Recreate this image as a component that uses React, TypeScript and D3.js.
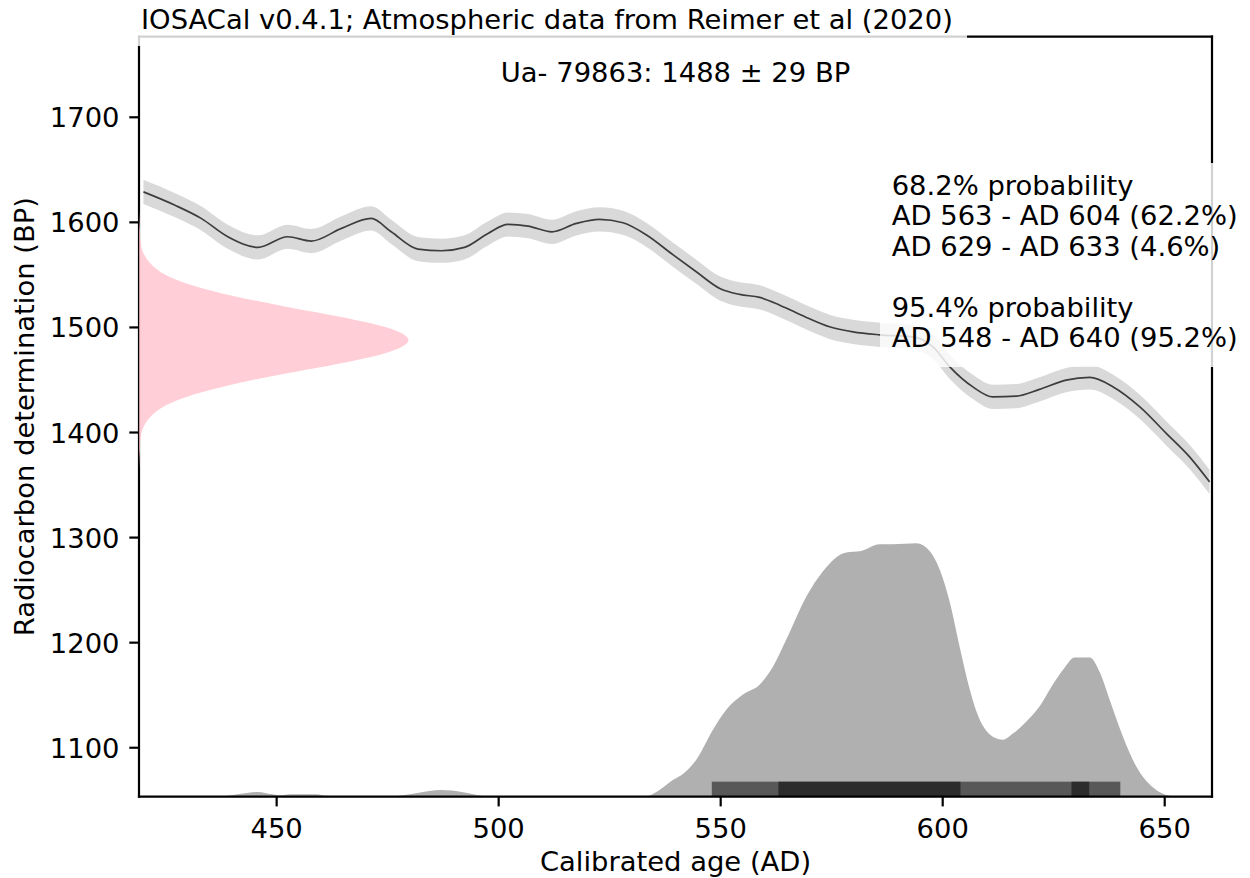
import React from "react";
import * as d3 from "d3";

const W = 1250;
const H = 878;
const X_DOMAIN = [419.0, 660.65];
const Y_DOMAIN = [1053.4, 1776.7];
const X_TICKS = [450, 500, 550, 600, 650];
const Y_TICKS = [1100, 1200, 1300, 1400, 1500, 1600, 1700];

// Calibration curve (IntCal20)
const CURVE_YEARS = [420, 427, 433, 439, 445.8, 452.5, 457.8, 464.6, 471.3, 475.8, 481.8, 487.1, 492.3, 497.6, 502.1, 506.6, 512, 517.5, 522.7, 528, 533.3, 539.3, 544.5, 549.8, 554.3, 558.8, 563.3, 569.3, 574.5, 579.8, 585.8, 593.3, 597.8, 601.6, 606.8, 611.3, 616.6, 621.8, 627.8, 633.1, 638.4, 644.4, 650.4, 655.6, 660.1];
const CURVE_BP = [1629, 1616.5, 1603.8, 1586.3, 1576.2, 1586.3, 1582.2, 1594.3, 1603.8, 1591, 1574.6, 1573, 1576.2, 1589.5, 1598, 1596.5, 1591, 1599, 1602.9, 1599.6, 1588, 1569, 1553, 1537.1, 1531.4, 1528.6, 1521.2, 1509.5, 1500.6, 1495.8, 1493, 1491, 1481.5, 1462.5, 1443.4, 1433.9, 1434.6, 1441, 1449.8, 1452.4, 1443.4, 1424.4, 1399, 1376.8, 1353];
const CURVE_ERR = 11.5;

// Calibrated probability distribution (relative)
const DIST_YEARS = [419, 435, 439, 442, 445.8, 449, 451, 453, 459, 461, 465, 475, 478, 482, 487, 492, 496, 500, 530, 533.3, 535.6, 539.3, 541.5, 544.5, 548.3, 551.3, 555, 558.8, 561.8, 564.8, 569.3, 573, 578.3, 581.3, 585.8, 588.8, 594.1, 597.1, 599.3, 601.6, 603.8, 606.1, 607.6, 611.3, 613.6, 615.8, 618.8, 621.8, 624.8, 627.5, 629.7, 633.1, 635.4, 637.6, 640.6, 643.6, 647.4, 651.1, 655, 660.65];
const DIST_DENSITY = [0, 0, 0.004, 0.012, 0.019, 0.01, 0.006, 0.01, 0.01, 0.004, 0, 0, 0.005, 0.016, 0.026, 0.018, 0.004, 0, 0, 0.002, 0.02, 0.067, 0.09, 0.146, 0.265, 0.344, 0.403, 0.443, 0.514, 0.621, 0.79, 0.889, 0.964, 0.968, 0.996, 0.996, 1.0, 0.968, 0.897, 0.767, 0.593, 0.423, 0.336, 0.237, 0.225, 0.249, 0.296, 0.356, 0.443, 0.51, 0.549, 0.549, 0.49, 0.383, 0.237, 0.119, 0.036, 0.004, 0, 0];
const DIST_MAX_BP = 241.2;

// Radiocarbon determination 1488 ± 29 BP (relative density along the y axis)
const DATE_BP = [1633, 1610, 1590, 1580, 1570, 1560, 1550, 1540, 1530, 1520, 1510, 1500, 1488, 1476, 1466, 1456, 1446, 1436, 1426, 1416, 1406, 1396, 1386, 1366, 1343];
const DATE_DENSITY = [0, 0.0003, 0.004, 0.0065, 0.018, 0.046, 0.1, 0.2, 0.35, 0.54, 0.75, 0.92, 1, 0.92, 0.75, 0.54, 0.35, 0.2, 0.1, 0.046, 0.018, 0.0065, 0.004, 0.0003, 0];
const DATE_PEAK_YEARS = 60.7;

const RANGES_954 = [[548, 640]];
const RANGES_682 = [[563, 604], [629, 633]];
const BAR_BP = 14.3;

const TITLE = "IOSACal v0.4.1; Atmospheric data from Reimer et al (2020)";
const DATE_LABEL = "Ua- 79863: 1488 \u00b1 29 BP";
const ANNOT_LINES = ["68.2% probability", "AD 563 - AD 604 (62.2%)", "AD 629 - AD 633 (4.6%)", "", "95.4% probability", "AD 548 - AD 640 (95.2%)"];
const X_LABEL = "Calibrated age (AD)";
const Y_LABEL = "Radiocarbon determination (BP)";

const FONT = "'DejaVu Sans', sans-serif";
const FS = 27.4;

export default function App() {
  const L = 139, R = 1212, T = 36.7, B = 796.7;
  const x = d3.scaleLinear().domain(X_DOMAIN).range([L, R]);
  const y = d3.scaleLinear().domain(Y_DOMAIN).range([B, T]);

  const curvePts = CURVE_YEARS.map((t, i) => ({ t, v: CURVE_BP[i] }));
  const band = d3.area<any>().x(d => x(d.t)).y0(d => y(d.v - CURVE_ERR)).y1(d => y(d.v + CURVE_ERR)).curve(d3.curveMonotoneX)(curvePts);
  const line = d3.line<any>().x(d => x(d.t)).y(d => y(d.v)).curve(d3.curveMonotoneX)(curvePts);

  const distPts = DIST_YEARS.map((t, i) => ({ t, d: DIST_DENSITY[i] }));
  const dist = d3.area<any>().x(d => x(d.t)).y0(y(Y_DOMAIN[0])).y1(d => y(Y_DOMAIN[0] + d.d * DIST_MAX_BP)).curve(d3.curveMonotoneX)(distPts);

  const datePts = DATE_BP.map((v, i) => ({ v, d: DATE_DENSITY[i] }));
  const pink = d3.area<any>().y(d => y(d.v)).x0(x(X_DOMAIN[0])).x1(d => x(X_DOMAIN[0] + d.d * DATE_PEAK_YEARS)).curve(d3.curveMonotoneY)(datePts);

  const lineH = 30.5;
  const annotX = 891.7;
  const annotY0 = 194.5;

  return (
    <svg width={W} height={H} style={{ position: "absolute", left: 0, top: 0, background: "#fff" }} fontFamily={FONT}>
      <defs>
        <clipPath id="plot"><rect x={L} y={T} width={R - L} height={B - T} /></clipPath>
      </defs>
      <rect x={0} y={0} width={W} height={H} fill="#fff" />
      <g clipPath="url(#plot)">
        <path d={dist || ""} fill="#b0b0b0" />
        {RANGES_954.map((r, i) => (
          <rect key={"a" + i} x={x(r[0])} width={x(r[1]) - x(r[0])} y={y(Y_DOMAIN[0] + BAR_BP)} height={y(Y_DOMAIN[0]) - y(Y_DOMAIN[0] + BAR_BP)} fill="#000" fillOpacity={0.5} />
        ))}
        {RANGES_682.map((r, i) => (
          <rect key={"b" + i} x={x(r[0])} width={x(r[1]) - x(r[0])} y={y(Y_DOMAIN[0] + BAR_BP)} height={y(Y_DOMAIN[0]) - y(Y_DOMAIN[0] + BAR_BP)} fill="#000" fillOpacity={0.5} />
        ))}
        <path d={band || ""} fill="#d9d9d9" />
        <path d={line || ""} fill="none" stroke="#000" strokeOpacity={0.72} strokeWidth={1.7} />
      </g>
      {/* spines */}
      <g stroke="#000" strokeWidth={2.2} fill="none">
        <line x1={L} x2={R} y1={B} y2={B} strokeLinecap="square" />
        <line x1={L} x2={R} y1={T} y2={T} strokeLinecap="square" />
        <line x1={L} x2={L} y1={T} y2={B} strokeLinecap="square" />
        <line x1={R} x2={R} y1={T} y2={B} strokeLinecap="square" />
      </g>
      <path d={pink || ""} fill="#ffc0cb" fillOpacity={0.78} />
      {/* ticks */}
      {X_TICKS.map(t => (
        <g key={"x" + t}>
          <line x1={x(t)} x2={x(t)} y1={B} y2={B + 9.7} stroke="#000" strokeWidth={2.2} />
          <text x={x(t)} y={838.3} fontSize={FS} textAnchor="middle" fill="#000">{t}</text>
        </g>
      ))}
      {Y_TICKS.map(v => (
        <g key={"y" + v}>
          <line x1={L - 9.7} x2={L} y1={y(v)} y2={y(v)} stroke="#000" strokeWidth={2.2} />
          <text x={119.5} y={y(v)} dy={10} fontSize={FS} textAnchor="end" fill="#000">{v}</text>
        </g>
      ))}
      <text x={(L + R) / 2} y={871} fontSize={FS} textAnchor="middle" fill="#000">{X_LABEL}</text>
      <text transform={`translate(33.5, ${(T + B) / 2}) rotate(-90)`} fontSize={FS} textAnchor="middle" fill="#000">{Y_LABEL}</text>
      <text x={(L + R) / 2} y={81.7} fontSize={FS} textAnchor="middle" fill="#000">{DATE_LABEL}</text>
      {/* annotation box */}
      <rect x={880} y={163} width={368} height={204} fill="#fff" fillOpacity={0.82} />
      {ANNOT_LINES.map((s, i) => (
        <text key={"n" + i} x={annotX} y={annotY0 + i * lineH} fontSize={FS} fill="#000">{s}</text>
      ))}
      {/* title box */}
      <rect x={128} y={0} width={839} height={46} fill="#fff" fillOpacity={0.82} />
      <text x={141} y={29.3} fontSize={FS} fill="#000">{TITLE}</text>
    </svg>
  );
}
